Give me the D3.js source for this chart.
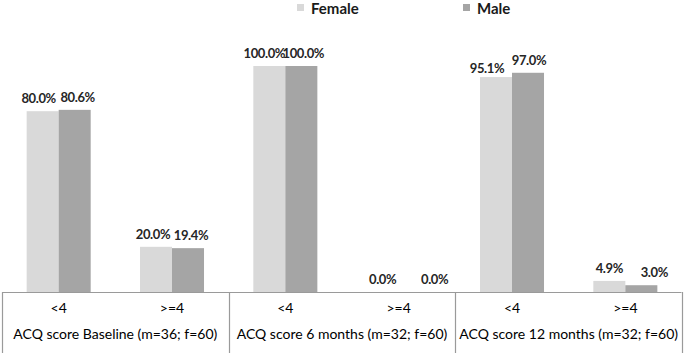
<!DOCTYPE html>
<html>
<head>
<meta charset="utf-8">
<script src="https://cdn.jsdelivr.net/npm/d3@7/dist/d3.min.js"></script>
<style>
  html, body { margin: 0; padding: 0; background: #fff; }
  svg { display: block; }
  text { font-family: Lato, "Open Sans", "DejaVu Sans", sans-serif; }
</style>
</head>
<body>
<svg id="chart" width="685" height="353"></svg>
<script>
// ---- data ----
const groups = ["ACQ score Baseline (m=36; f=60)", "ACQ score 6 months (m=32; f=60)", "ACQ score 12 months (m=32; f=60)"];
const subcats = ["<4", ">=4"];
const seriesNames = ["Female", "Male"];
const female = [80.0, 20.0, 100.0, 0.0, 95.1, 4.9];
const male = [80.6, 19.4, 100.0, 0.0, 97.0, 3.0];

// ---- build ----
const cats = [];
groups.forEach((g, gi) => subcats.forEach((s, si) => cats.push({ id: gi * 2 + si, group: gi, label: s })));
const values = [female, male];
const colors = { Female: "#d9d9d9", Male: "#a5a5a5" };

const svg = d3.select("#chart");
const baseY = 292;

const x0 = d3.scaleBand().domain(cats.map(c => c.id)).range([2, 682])
  .paddingInner(0.435).paddingOuter(0.2175);
const x1 = d3.scaleBand().domain(seriesNames).range([0, x0.bandwidth()]);
const y = d3.scaleLinear().domain([0, 100]).range([baseY, 66]);
const xg = d3.scaleBand().domain(groups.map((g, i) => i)).range([2, 682]);

// bars
const barData = [];
cats.forEach(c => seriesNames.forEach((s, si) => barData.push({ cat: c, series: s, v: values[si][c.id], si })));

svg.append("g").selectAll("rect").data(barData).join("rect")
  .attr("x", d => x0(d.cat.id) + x1(d.series))
  .attr("y", d => y(d.v))
  .attr("width", x1.bandwidth())
  .attr("height", d => baseY - y(d.v))
  .attr("fill", d => colors[d.series]);

// value labels: the original spreads neighbouring labels apart to avoid overlaps
const labelShift = {
  "0Female": [-4, 0], "0Male": [3, 0],
  "1Female": [-3, 0], "1Male": [3, 0],
  "2Female": [-5, 0], "2Male": [2, 0],
  "3Female": [0, 0], "3Male": [20, 0],
  "4Female": [-9, 4], "4Male": [1, 0],
  "5Female": [0, 0], "5Male": [13, 0]
};
svg.append("g").selectAll("text").data(barData).join("text")
  .attr("x", d => x0(d.cat.id) + x1(d.series) + x1.bandwidth() / 2 + labelShift[d.cat.id + d.series][0])
  .attr("y", d => y(d.v) - 8 + labelShift[d.cat.id + d.series][1])
  .attr("text-anchor", "middle")
  .attr("font-size", "13px")
  .attr("letter-spacing", "-0.4px")
  .attr("font-weight", "bold")
  .attr("fill", "#262626")
  .text(d => d.v.toFixed(1) + "%");

// axis (baseline + sub-category labels)
const axis = d3.axisBottom(x0).tickSize(0).tickPadding(0).tickFormat(i => cats[i].label);
const ax = svg.append("g").attr("transform", `translate(0,${baseY})`).call(axis);
ax.select(".domain").attr("stroke", "#9a9a9a").attr("stroke-width", 1.2).attr("d", "M2.5,0.5H681.5");
ax.selectAll(".tick text")
  .attr("y", 21)
  .attr("dy", 0)
  .attr("font-size", "14px")
  .attr("font-family", "Lato, 'Open Sans', sans-serif")
  .attr("fill", "#000");

// group separators
const seps = [0, 1, 2].map(i => xg(i)).concat([xg(2) + xg.bandwidth()]);
svg.append("g").selectAll("line").data(seps).join("line")
  .attr("x1", d => Math.round(d) + 0.5).attr("x2", d => Math.round(d) + 0.5)
  .attr("y1", baseY).attr("y2", 353)
  .attr("stroke", "#9a9a9a").attr("stroke-width", 1.2);

// group labels
svg.append("g").selectAll("text").data(groups).join("text")
  .attr("x", (d, i) => xg(i) + xg.bandwidth() / 2)
  .attr("y", 339)
  .attr("text-anchor", "middle")
  .attr("font-size", "14px")
  .attr("fill", "#000")
  .text(d => d);

// legend
const legX = { Female: 297, Male: 463 };
const leg = svg.append("g").selectAll("g").data(seriesNames).join("g")
  .attr("transform", d => `translate(${legX[d]},0)`);
leg.append("rect").attr("y", 4).attr("width", 7).attr("height", 7).attr("fill", d => colors[d]);
leg.append("text").attr("x", 14).attr("y", 14).attr("font-size", "15px")
  .attr("font-weight", "bold").attr("fill", "#1a1a1a").text(d => d);
</script>
</body>
</html>
